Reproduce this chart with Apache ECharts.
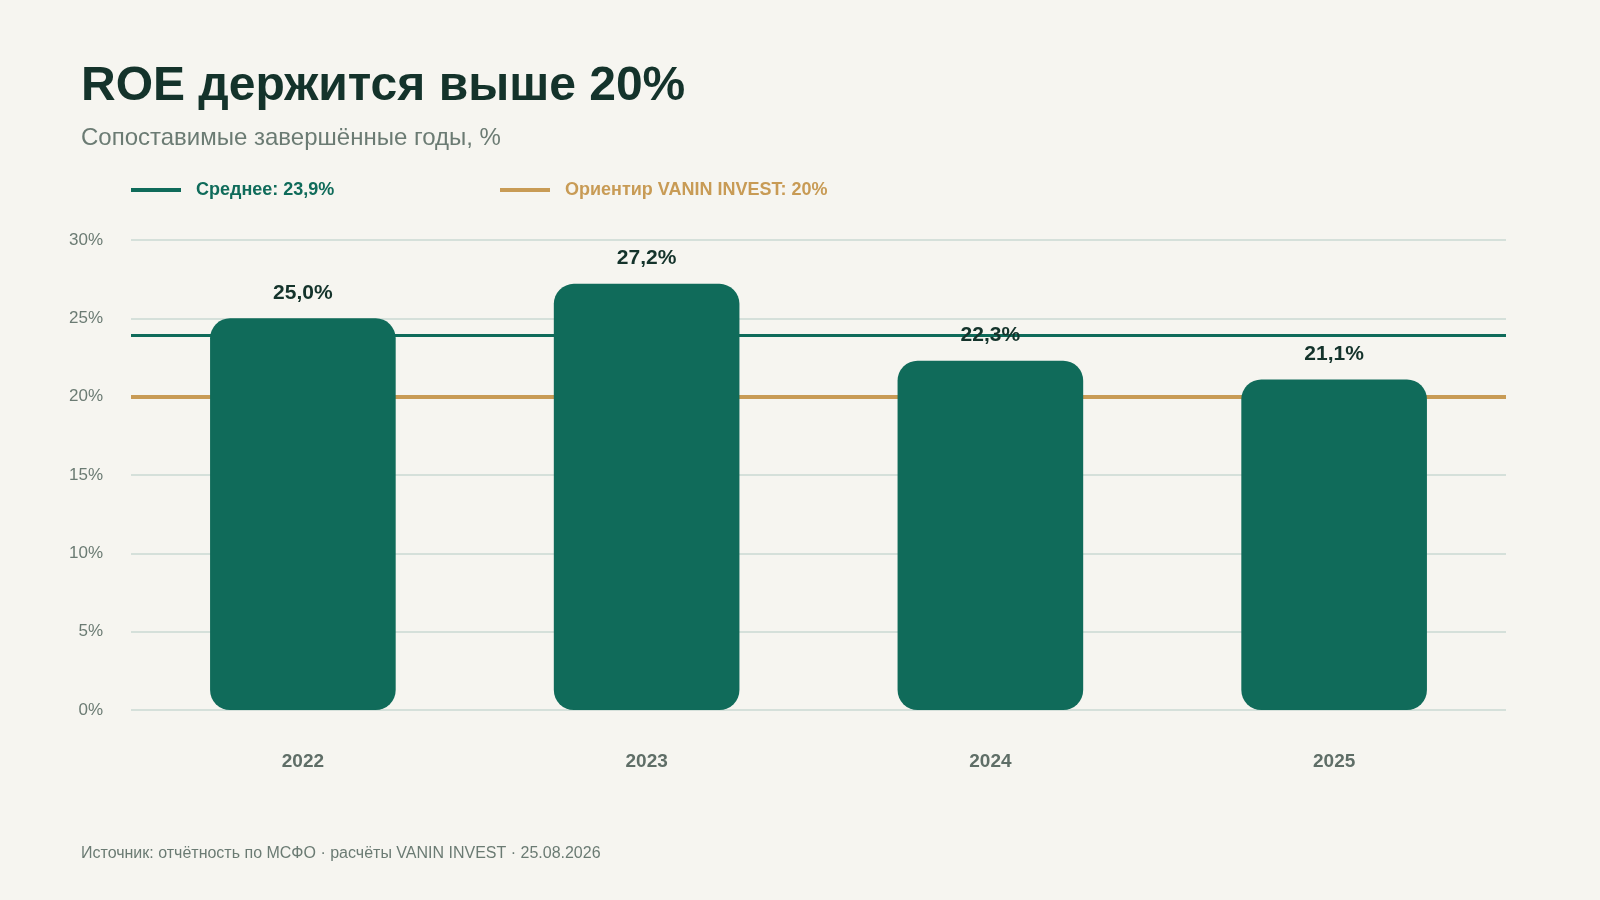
<!DOCTYPE html>
<html>
<head>
<meta charset="utf-8">
<script src="https://cdn.jsdelivr.net/npm/echarts@6/dist/echarts.min.js"></script>
<style>
  html, body { margin: 0; padding: 0; background: #f6f5f0; }
  #chart { width: 1600px; height: 900px; }
</style>
</head>
<body>
<div id="chart"></div>
<script>
const years = ['2022', '2023', '2024', '2025'];
const roe = [25.0, 27.2, 22.3, 21.1];
const avgRoe = 23.9;
const targetRoe = 20;
const avgName = 'Среднее: 23,9%';
const targetName = 'Ориентир VANIN INVEST: 20%';

const font = '"Liberation Sans", Arial, sans-serif';
const fmt = v => v.toFixed(1).replace('.', ',') + '%';

const chart = echarts.init(document.getElementById('chart'));
chart.setOption({
    backgroundColor: '#f6f5f0',
    animation: false,
    textStyle: { fontFamily: font },
    title: {
        text: 'ROE держится выше 20%',
        subtext: 'Сопоставимые завершённые годы, %',
        left: 76,
        top: 58,
        itemGap: 15,
        textStyle: { fontSize: 48, fontWeight: 'bold', color: '#14332b', fontFamily: font },
        subtextStyle: { fontSize: 24, color: '#6b7b73', fontFamily: font }
    },
    legend: [{
        data: [{ name: avgName, textStyle: { color: '#0f6b5a' } }],
        left: 126, top: 176,
        icon: 'rect', itemWidth: 50, itemHeight: 4, itemGap: 14,
        textStyle: { fontSize: 18, fontWeight: 'bold', fontFamily: font, padding: [0, 0, 0, 10] }
    }, {
        data: [{ name: targetName, textStyle: { color: '#c89b55' } }],
        left: 495, top: 176,
        icon: 'rect', itemWidth: 50, itemHeight: 4, itemGap: 14,
        textStyle: { fontSize: 18, fontWeight: 'bold', fontFamily: font, padding: [0, 0, 0, 10] }
    }],
    grid: { left: 131, right: 94, top: 240, bottom: 190 },
    xAxis: {
        type: 'category',
        data: years,
        axisLine: { show: false },
        axisTick: { show: false },
        axisLabel: { margin: 42, fontSize: 19, fontWeight: 'bold', color: '#5f6e67' }
    },
    yAxis: {
        type: 'value',
        min: 0, max: 30, interval: 5,
        axisLabel: { formatter: '{value}%', fontSize: 17, color: '#6b7b73', margin: 28 },
        splitLine: { lineStyle: { color: '#d5e0da', width: 2 } }
    },
    series: [{
        name: avgName,
        type: 'line',
        data: [],
        z: 1,
        color: '#0f6b5a',
        lineStyle: { color: '#0f6b5a', width: 3 },
        markLine: {
            z: 1,
            silent: true, symbol: 'none', label: { show: false },
            lineStyle: { color: '#0f6b5a', width: 3, type: 'solid' },
            data: [{ yAxis: avgRoe }]
        }
    }, {
        name: targetName,
        type: 'line',
        data: [],
        z: 1,
        color: '#c89b55',
        lineStyle: { color: '#c89b55', width: 4 },
        markLine: {
            z: 1,
            silent: true, symbol: 'none', label: { show: false },
            lineStyle: { color: '#c89b55', width: 4, type: 'solid' },
            data: [{ yAxis: targetRoe }]
        }
    }, {
        name: 'ROE',
        type: 'bar',
        data: roe,
        z: 3,
        barWidth: '54%',
        itemStyle: { color: '#106b5a', borderRadius: 20 },
        label: {
            show: true, position: 'top', distance: 15,
            formatter: p => fmt(p.value),
            fontSize: 21, fontWeight: 'bold', color: '#14332b'
        }
    }],
    graphic: [{
        type: 'text',
        left: 81, top: 846,
        style: {
            text: 'Источник: отчётность по МСФО · расчёты VANIN INVEST · 25.08.2026',
            font: '16px ' + font,
            fill: '#6b7b73'
        }
    }]
});
window.onresize = () => chart.resize();
</script>
</body>
</html>
